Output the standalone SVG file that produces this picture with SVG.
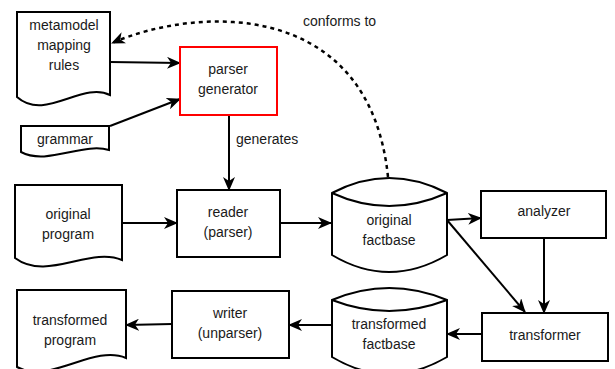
<svg xmlns="http://www.w3.org/2000/svg" width="615" height="369" viewBox="0 0 615 369">
<style>
.s{fill:#fff;stroke:#000;stroke-width:2}
.red{fill:#fff;stroke:#f00;stroke-width:2}
.t{font-family:"Liberation Sans",Arial,sans-serif;font-size:14px;fill:#1a1a1a;text-anchor:middle}
.l{text-anchor:start}
.c{fill:none;stroke:#000;stroke-width:2}
.d{stroke-dasharray:4 4;stroke-width:2.5}
</style>
<defs>
<marker id="arr" viewBox="0 0 14 12" refX="13" refY="6" markerWidth="14" markerHeight="12" markerUnits="userSpaceOnUse" orient="auto">
<path d="M0,0 L14,6 L0,12 L4,6 Z" fill="#000"/>
</marker>
</defs>
<g id="connectors">
<path class="c" d="M110,62 L180,63" marker-end="url(#arr)"/>
<path class="c" d="M110,126 L180,99" marker-end="url(#arr)"/>
<path class="c" d="M229,115 L229,190" marker-end="url(#arr)"/>
<path class="c" d="M122,223 L177,223" marker-end="url(#arr)"/>
<path class="c" d="M280,223 L331,223" marker-end="url(#arr)"/>
<path class="c" d="M447,220 L481,218" marker-end="url(#arr)"/>
<path class="c" d="M447,220 L525,312" marker-end="url(#arr)"/>
<path class="c" d="M544,238 L544,313" marker-end="url(#arr)"/>
<path class="c" d="M482,334 L447,334" marker-end="url(#arr)"/>
<path class="c" d="M331,325 L289,325" marker-end="url(#arr)"/>
<path class="c" d="M172,324 L126,325" marker-end="url(#arr)"/>
<path class="c d" d="M388,177 C370,0 200,5 112,43" marker-end="url(#arr)"/>
<text class="t l" x="236" y="144">generates</text>
<text class="t l" x="303" y="26">conforms to</text>
</g>
<g id="metamodel">
<path class="s" d="M17,12 H110 V95 C82,81 45,122 17,97 Z"/>
<text class="t" x="64" y="30">metamodel</text>
<text class="t" x="64" y="50">mapping</text>
<text class="t" x="64" y="70">rules</text>
</g>
<g id="grammar">
<path class="s" d="M21,126 H109 V150 C83,142 47,166 21,152 Z"/>
<text class="t" x="65" y="144">grammar</text>
</g>
<g id="parser-generator">
<rect class="red" x="180" y="47" width="97" height="68"/>
<text class="t" x="228" y="74">parser</text>
<text class="t" x="228" y="94">generator</text>
</g>
<g id="original-program">
<path class="s" d="M15,185 H122 V260 C90,246 47,282 15,258 Z"/>
<text class="t" x="68" y="219">original</text>
<text class="t" x="68" y="239">program</text>
</g>
<g id="reader">
<rect class="s" x="177" y="190" width="103" height="67"/>
<text class="t" x="228" y="217">reader</text>
<text class="t" x="228" y="237">(parser)</text>
</g>
<g id="original-factbase">
<path class="s" d="M332,193 Q389,163 447,193 V255 Q389,289 332,255 Z"/>
<path class="c" d="M332,193 Q389,219 447,193"/>
<text class="t" x="389" y="225">original</text>
<text class="t" x="389" y="245">factbase</text>
</g>
<g id="analyzer">
<rect class="s" x="481" y="191" width="125" height="47"/>
<text class="t" x="544" y="216">analyzer</text>
</g>
<g id="transformer">
<rect class="s" x="482" y="313" width="126" height="48"/>
<text class="t" x="545" y="340">transformer</text>
</g>
<g id="transformed-factbase">
<path class="s" d="M332,300 Q389,276 447,300 V357 Q389,391 332,357 Z"/>
<path class="c" d="M332,300 Q389,322 447,300"/>
<text class="t" x="389" y="329">transformed</text>
<text class="t" x="389" y="349">factbase</text>
</g>
<g id="writer">
<rect class="s" x="172" y="291" width="117" height="67"/>
<text class="t" x="230" y="318">writer</text>
<text class="t" x="230" y="338">(unparser)</text>
</g>
<g id="transformed-program">
<path class="s" d="M17,290 H126 V358 C93,344 50,385 17,367 Z"/>
<text class="t" x="70" y="325">transformed</text>
<text class="t" x="70" y="345">program</text>
</g>
</svg>
